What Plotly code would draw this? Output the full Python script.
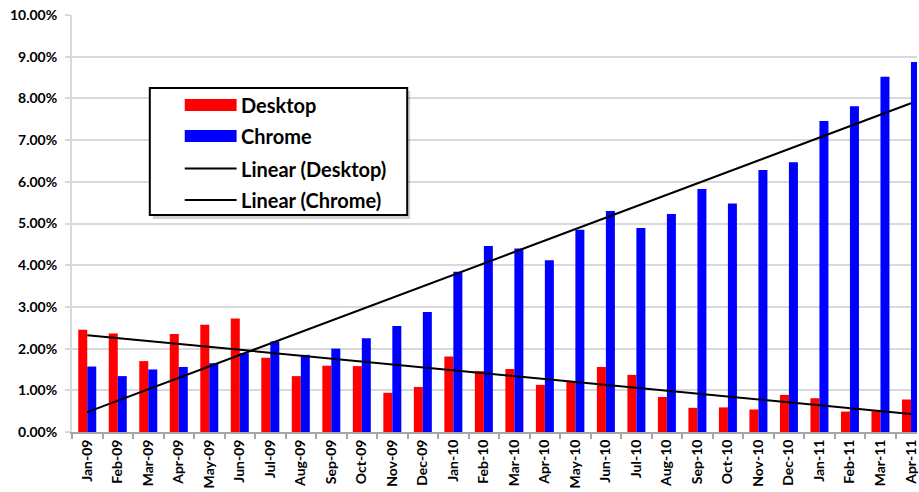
import numpy as np
import plotly.graph_objects as go

months = ["Jan-09", "Feb-09", "Mar-09", "Apr-09", "May-09", "Jun-09", "Jul-09", "Aug-09",
          "Sep-09", "Oct-09", "Nov-09", "Dec-09", "Jan-10", "Feb-10", "Mar-10", "Apr-10",
          "May-10", "Jun-10", "Jul-10", "Aug-10", "Sep-10", "Oct-10", "Nov-10", "Dec-10",
          "Jan-11", "Feb-11", "Mar-11", "Apr-11"]
desktop = [2.45, 2.36, 1.70, 2.35, 2.57, 2.72, 1.78, 1.34, 1.59, 1.58, 0.94, 1.08, 1.81, 1.46,
           1.51, 1.13, 1.22, 1.56, 1.37, 0.84, 0.58, 0.59, 0.54, 0.89, 0.81, 0.49, 0.50, 0.78]
chrome = [1.57, 1.34, 1.50, 1.56, 1.65, 1.89, 2.17, 1.85, 2.00, 2.25, 2.54, 2.88, 3.84, 4.46,
          4.40, 4.12, 4.85, 5.30, 4.89, 5.23, 5.83, 5.48, 6.28, 6.47, 7.46, 7.81, 8.52, 8.87]
y_ticks = [0, 1, 2, 3, 4, 5, 6, 7, 8, 9, 10]
y_ticktext = [f"{v:.2f}%" for v in y_ticks]

W, H = 919, 492
L, T, R, B = 72, 15, 0, 60
PW, PH = W - L - R, H - T - B
CAT_PX = 30.58
FONT = "Lato"

fig = go.Figure()
fig.add_bar(x=months, y=desktop, name="Desktop", marker=dict(color="#FF0000", line=dict(width=0)))
fig.add_bar(x=months, y=chrome, name="Chrome", marker=dict(color="#0000FF", line=dict(width=0)))

idx = np.arange(len(months))
for vals, nm in [(desktop, "Linear (Desktop)"), (chrome, "Linear (Chrome)")]:
    p = np.polyfit(idx, vals, 1)
    fig.add_scatter(x=[months[0], months[-1]], y=list(np.polyval(p, [idx[0], idx[-1]])),
                    mode="lines", name=nm, line=dict(color="black", width=2))


def px_x(px):
    return (px - L) / PW


def px_y(py):
    return (H - B - py) / PH


shapes = []
# legend box with shadow
shapes.append(dict(type="rect", xref="paper", yref="paper", x0=px_x(153), x1=px_x(411),
                   y0=px_y(219), y1=px_y(91), fillcolor="rgba(0,0,0,0.18)", line=dict(width=0)))
shapes.append(dict(type="rect", xref="paper", yref="paper", x0=px_x(150), x1=px_x(408),
                   y0=px_y(215), y1=px_y(88), fillcolor="white", line=dict(color="black", width=2)))
shapes.append(dict(type="rect", xref="paper", yref="paper", x0=px_x(185), x1=px_x(237),
                   y0=px_y(111), y1=px_y(99), fillcolor="#FF0000", line=dict(width=0)))
shapes.append(dict(type="rect", xref="paper", yref="paper", x0=px_x(185), x1=px_x(237),
                   y0=px_y(142), y1=px_y(130), fillcolor="#0000FF", line=dict(width=0)))
for yy in (168.5, 200):
    shapes.append(dict(type="line", xref="paper", yref="paper", x0=px_x(185), x1=px_x(237),
                       y0=px_y(yy), y1=px_y(yy), line=dict(color="black", width=2)))

annotations = []
for txt, yy in [("Desktop", 105), ("Chrome", 136), ("Linear (Desktop)", 168.5), ("Linear (Chrome)", 199.5)]:
    annotations.append(dict(text=txt, xref="paper", yref="paper", x=px_x(239), y=px_y(yy),
                            xanchor="left", yanchor="middle", showarrow=False,
                            font=dict(family=FONT, size=20, color="black", weight="bold")))

fig.update_layout(
    width=W, height=H,
    margin=dict(l=L, r=R, t=T, b=B, pad=0),
    paper_bgcolor="white", plot_bgcolor="white",
    barmode="group", bargap=0.41, bargroupgap=0,
    showlegend=False,
    shapes=shapes, annotations=annotations,
    font=dict(family=FONT, color="black"),
    xaxis=dict(type="category", range=[-0.5, -0.5 + PW / CAT_PX], tickson="boundaries",
               ticks="outside", ticklen=5, tickcolor="#a6a6a6", tickwidth=1.5,
               showline=True, linecolor="#a6a6a6", linewidth=2, showgrid=False,
               tickangle=-90, tickfont=dict(family=FONT, size=14, color="black", weight="bold")),
    yaxis=dict(range=[0, 10], tickvals=y_ticks, ticktext=y_ticktext,
               showgrid=True, gridcolor="#d9d9d9", gridwidth=2, zeroline=False,
               showline=True, linecolor="#d9d9d9", linewidth=2,
               ticks="outside", ticklen=5, tickcolor="#d9d9d9", tickwidth=2,
               ticklabelstandoff=5,
               tickfont=dict(family=FONT, size=14, color="black", weight="bold")),
)

fig.write_html("out.html")
